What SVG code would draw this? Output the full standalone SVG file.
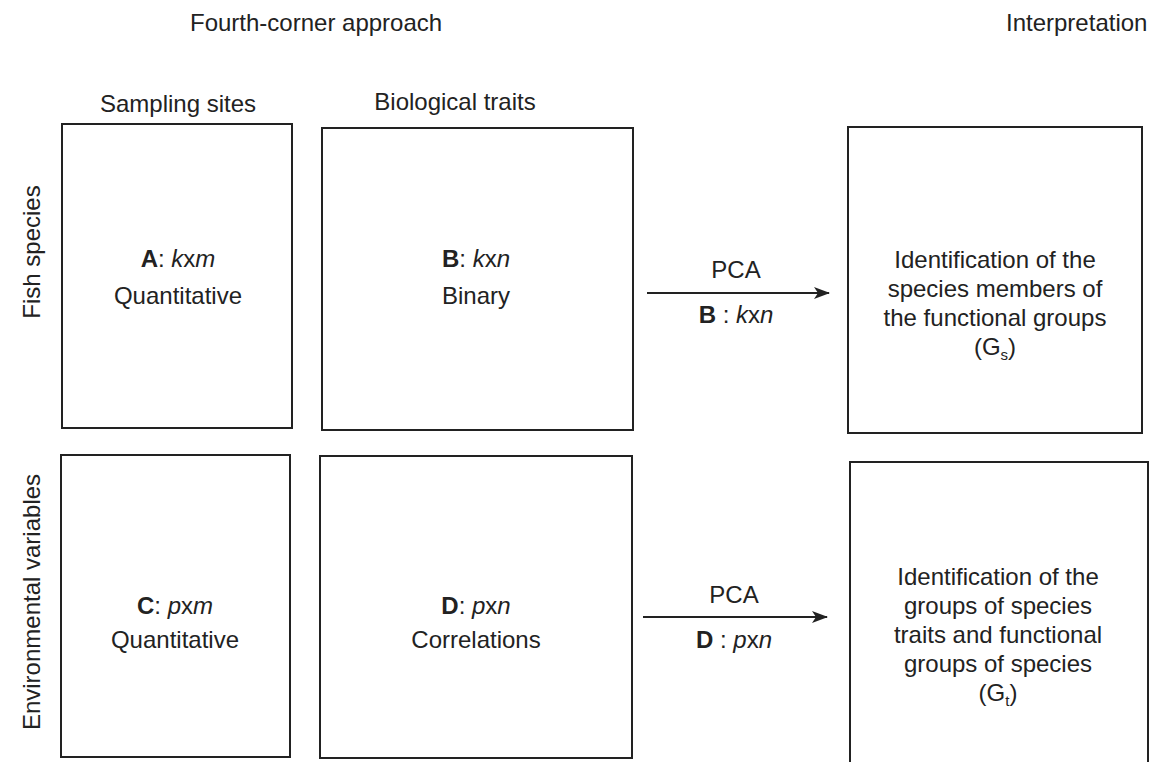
<svg xmlns="http://www.w3.org/2000/svg" width="1162" height="762" viewBox="0 0 1162 762">
<defs>
<marker id="arr" viewBox="0 0 16 12" refX="15" refY="6" markerWidth="16" markerHeight="12" markerUnits="userSpaceOnUse" orient="auto">
<path d="M0,0 L16,6 L0,12 L4,6 Z" fill="#222"/>
</marker>
</defs>
<style>
text{font-family:"Liberation Sans",Arial,sans-serif;font-size:24px;fill:#222}
.c{text-anchor:middle}
.box{fill:none;stroke:#222;stroke-width:2}
.conn{stroke:#222;stroke-width:1.8;fill:none}
.b{font-weight:bold}
.i{font-style:italic}
.sub{font-size:15px}
</style>
<rect width="1162" height="762" fill="#fff"/>
<g id="headers">
<text x="190" y="31">Fourth-corner approach</text>
<text x="1006" y="31">Interpretation</text>
<text class="c" x="178" y="112">Sampling sites</text>
<text class="c" x="455" y="110">Biological traits</text>
<text class="c" transform="translate(40,252) rotate(-90)">Fish species</text>
<text class="c" transform="translate(40,602) rotate(-90)">Environmental variables</text>
</g>
<g id="nodeA">
<rect class="box" x="62" y="124" width="230" height="304"/>
<text class="c" x="178" y="267"><tspan class="b">A</tspan>: <tspan class="i">k</tspan>x<tspan class="i">m</tspan></text>
<text class="c" x="178" y="304">Quantitative</text>
</g>
<g id="nodeB">
<rect class="box" x="322" y="128" width="311" height="302"/>
<text class="c" x="476" y="267"><tspan class="b">B</tspan>: <tspan class="i">k</tspan>x<tspan class="i">n</tspan></text>
<text class="c" x="476" y="304">Binary</text>
</g>
<g id="nodeGs">
<rect class="box" x="848" y="127" width="294" height="306"/>
<text class="c" x="995" y="268">Identification of the</text>
<text class="c" x="995" y="297">species members of</text>
<text class="c" x="995" y="326">the functional groups</text>
<text class="c" x="995" y="355">(G<tspan class="sub" dy="5">s</tspan><tspan dy="-5">)</tspan></text>
</g>
<g id="nodeC">
<rect class="box" x="61" y="455" width="229" height="302"/>
<text class="c" x="175" y="614"><tspan class="b">C</tspan>: <tspan class="i">p</tspan>x<tspan class="i">m</tspan></text>
<text class="c" x="175" y="648">Quantitative</text>
</g>
<g id="nodeD">
<rect class="box" x="320" y="456" width="312" height="302"/>
<text class="c" x="476" y="614"><tspan class="b">D</tspan>: <tspan class="i">p</tspan>x<tspan class="i">n</tspan></text>
<text class="c" x="476" y="648">Correlations</text>
</g>
<g id="nodeGt">
<path class="box" d="M850,763 V462 H1148 V763"/>
<text class="c" x="998" y="585">Identification of the</text>
<text class="c" x="998" y="614">groups of species</text>
<text class="c" x="998" y="643">traits and functional</text>
<text class="c" x="998" y="672">groups of species</text>
<text class="c" x="998" y="701">(G<tspan class="sub" dy="5">t</tspan><tspan dy="-5">)</tspan></text>
</g>
<g id="connectors">
<line class="conn" x1="647" y1="293" x2="829" y2="293" marker-end="url(#arr)"/>
<text class="c" x="736" y="278">PCA</text>
<text class="c" x="736" y="323"><tspan class="b">B</tspan> : <tspan class="i">k</tspan>x<tspan class="i">n</tspan></text>
<line class="conn" x1="643" y1="617" x2="827" y2="617" marker-end="url(#arr)"/>
<text class="c" x="734" y="603">PCA</text>
<text class="c" x="734" y="648"><tspan class="b">D</tspan> : <tspan class="i">p</tspan>x<tspan class="i">n</tspan></text>
</g>
</svg>
